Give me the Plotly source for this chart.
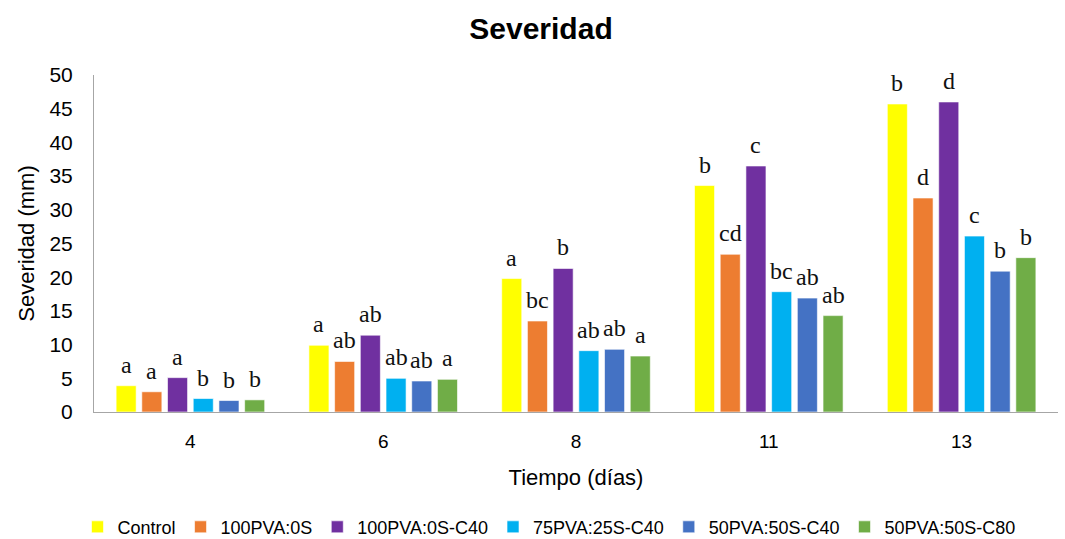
import plotly.graph_objects as go

categories = ["4", "6", "8", "11", "13"]
series_names = ["Control", "100PVA:0S", "100PVA:0S-C40", "75PVA:25S-C40", "50PVA:50S-C40", "50PVA:50S-C80"]
colors = ["#FFFF00", "#ED7D31", "#7030A0", "#00B0F0", "#4472C4", "#70AD47"]

control = [3.9, 9.9, 19.8, 33.6, 45.7]
pva100 = [3.0, 7.5, 13.5, 23.4, 31.75]
pva100_c40 = [5.1, 11.4, 21.3, 36.5, 46.0]
pva75_c40 = [2.0, 5.0, 9.1, 17.85, 26.1]
pva50_c40 = [1.7, 4.6, 9.3, 16.9, 20.9]
pva50_c80 = [1.8, 4.85, 8.3, 14.3, 22.9]
values = [control, pva100, pva100_c40, pva75_c40, pva50_c40, pva50_c80]

letters_control = ["a", "a", "a", "b", "b"]
letters_pva100 = ["a", "ab", "bc", "cd", "d"]
letters_pva100_c40 = ["a", "ab", "b", "c", "d"]
letters_pva75_c40 = ["b", "ab", "ab", "bc", "c"]
letters_pva50_c40 = ["b", "ab", "ab", "ab", "b"]
letters_pva50_c80 = ["b", "a", "a", "ab", "b"]
letters = [letters_control, letters_pva100, letters_pva100_c40,
           letters_pva75_c40, letters_pva50_c40, letters_pva50_c80]

bargap = 0.2
n = len(series_names)

fig = go.Figure()
for name, vals, col in zip(series_names, values, colors):
    fig.add_trace(go.Bar(
        x=categories, y=vals, name=name,
        marker=dict(color=col, line=dict(color="rgba(255,255,255,0.6)", width=1)),
        hoverinfo="x+y+name",
    ))

annotations = []
w = 1 - bargap
for i in range(n):
    for j, cat in enumerate(categories):
        xc = j - w / 2 + (i + 0.5) * w / n
        annotations.append(dict(
            x=xc, y=values[i][j], xref="x", yref="y",
            text=letters[i][j], showarrow=False, yanchor="bottom",
            yshift=6,
            font=dict(family="Liberation Serif, Times New Roman, serif", size=24, color="#111111"),
        ))

fig.update_layout(
    width=1065, height=539,
    paper_bgcolor="white", plot_bgcolor="white",
    margin=dict(l=94, r=7, t=75, b=127, autoexpand=False),
    bargap=bargap, bargroupgap=0.22, barmode="group",
    title=dict(text="<b>Severidad</b>", x=0.508, xanchor="center",
               yref="container", y=0.948, yanchor="middle",
               font=dict(family="Liberation Sans, Arial, sans-serif", size=30, color="black")),
    font=dict(family="Liberation Sans, Arial, sans-serif", color="black"),
    legend=dict(orientation="h", x=0.472, xanchor="center",
                yref="container", y=0.022, yanchor="middle",
                font=dict(size=18, color="black"), itemwidth=30, tracegroupgap=0,
                traceorder="normal"),
    annotations=annotations,
    showlegend=True,
)
fig.update_xaxes(
    type="category", showline=True, linecolor="#A6A6A6", linewidth=1,
    showgrid=False, ticks="", tickfont=dict(size=19, color="black"),
    ticklabelstandoff=12, automargin=False,
    title=dict(text="Tiempo (días)", font=dict(size=22, color="black"), standoff=18),
)
fig.update_yaxes(
    range=[0, 50], dtick=5, showline=True, linecolor="#A6A6A6", linewidth=1,
    showgrid=False, ticks="", zeroline=False, tickfont=dict(size=21, color="black"),
    ticklabelstandoff=16, automargin=False,
    title=dict(text="Severidad (mm)", font=dict(size=22, color="black"), standoff=8),
)

fig.write_html("out.html", config={"displayModeBar": False},
               post_script="document.body.style.margin='0';")
